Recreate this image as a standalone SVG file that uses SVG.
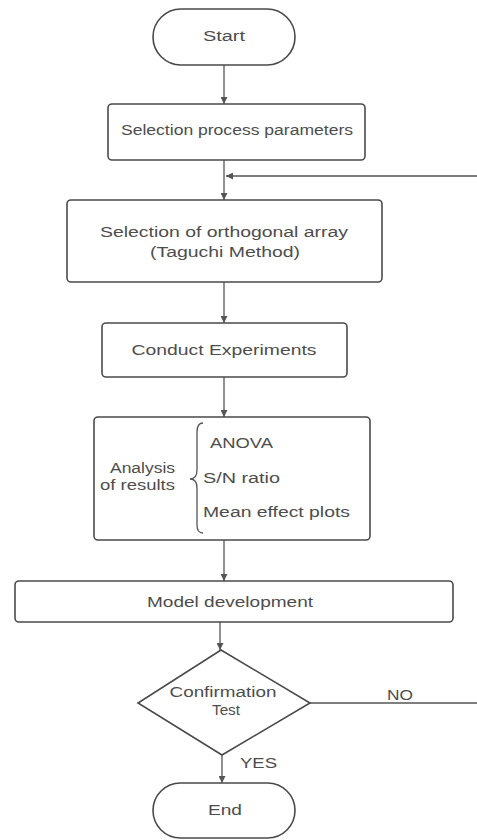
<svg xmlns="http://www.w3.org/2000/svg" width="477" height="840" viewBox="0 0 477 840">
<defs>
<style>
.shape{fill:#fff;stroke:#4a4a4a;stroke-width:1.6}
.t{font-family:"Liberation Sans",Arial,sans-serif;font-size:14px;fill:#4d4d4d}
.c{text-anchor:middle}
.conn{stroke:#555;stroke-width:1.3;fill:none}
</style>
<marker id="ah" viewBox="0 0 10 10" refX="10" refY="5" markerWidth="7" markerHeight="7" orient="auto" markerUnits="userSpaceOnUse">
<path d="M0,0 L10,5 L0,10 z" fill="#555"/>
</marker>
</defs>
<rect width="477" height="840" fill="#fff"/>
<g id="connectors">
<line class="conn" x1="224" y1="65" x2="224" y2="104" marker-end="url(#ah)"/>
<line class="conn" x1="224" y1="160" x2="224" y2="200" marker-end="url(#ah)"/>
<line class="conn" x1="477" y1="176" x2="226" y2="176" marker-end="url(#ah)"/>
<line class="conn" x1="224" y1="282" x2="224" y2="323" marker-end="url(#ah)"/>
<line class="conn" x1="224" y1="377" x2="224" y2="417" marker-end="url(#ah)"/>
<line class="conn" x1="224" y1="540" x2="224" y2="581" marker-end="url(#ah)"/>
<line class="conn" x1="220" y1="622" x2="220" y2="650" marker-end="url(#ah)"/>
<line class="conn" x1="310" y1="703" x2="477" y2="703"/>
<line class="conn" x1="222" y1="755" x2="222" y2="783" marker-end="url(#ah)"/>
<text class="t" x="387" y="700" textLength="26" lengthAdjust="spacingAndGlyphs">NO</text>
<text class="t" x="240" y="768" textLength="37" lengthAdjust="spacingAndGlyphs">YES</text>
</g>
<g id="start">
<rect class="shape" x="153" y="9" width="142" height="56" rx="28"/>
<text class="t c" x="224" y="41" textLength="42" lengthAdjust="spacingAndGlyphs">Start</text>
</g>
<g id="selection-params">
<rect class="shape" x="108" y="104" width="257" height="56" rx="4"/>
<text class="t c" x="237" y="135" textLength="232" lengthAdjust="spacingAndGlyphs">Selection process parameters</text>
</g>
<g id="orthogonal-array">
<rect class="shape" x="67" y="200" width="315" height="82" rx="4"/>
<text class="t c" x="224" y="237" textLength="248" lengthAdjust="spacingAndGlyphs">Selection of orthogonal array</text>
<text class="t c" x="225" y="257" textLength="150" lengthAdjust="spacingAndGlyphs">(Taguchi Method)</text>
</g>
<g id="conduct">
<rect class="shape" x="102" y="323" width="245" height="54" rx="4"/>
<text class="t c" x="224" y="355" textLength="185" lengthAdjust="spacingAndGlyphs">Conduct Experiments</text>
</g>
<g id="analysis">
<rect class="shape" x="94" y="417" width="276" height="123" rx="4"/>
<text class="t" x="175" y="473" text-anchor="end" textLength="65" lengthAdjust="spacingAndGlyphs">Analysis</text>
<text class="t" x="175" y="490" text-anchor="end" textLength="75" lengthAdjust="spacingAndGlyphs">of results</text>
<path d="M203,423 Q197,423 197,432 L197,470 Q197,479 190,479 Q197,479 197,488 L197,525 Q197,533 203,533" fill="none" stroke="#555" stroke-width="1.3"/>
<text class="t" x="210" y="448" textLength="63" lengthAdjust="spacingAndGlyphs">ANOVA</text>
<text class="t" x="203" y="483" textLength="77" lengthAdjust="spacingAndGlyphs">S/N ratio</text>
<text class="t" x="203" y="517" textLength="147" lengthAdjust="spacingAndGlyphs">Mean effect plots</text>
</g>
<g id="model">
<rect class="shape" x="15" y="581" width="438" height="41" rx="4"/>
<text class="t c" x="230" y="607" textLength="166" lengthAdjust="spacingAndGlyphs">Model development</text>
</g>
<g id="confirmation">
<polygon class="shape" points="221,650 310,703 222,755 138,703"/>
<text class="t c" x="223" y="697" textLength="107" lengthAdjust="spacingAndGlyphs">Confirmation</text>
<text class="t c" x="226" y="715" textLength="28" lengthAdjust="spacingAndGlyphs">Test</text>
</g>
<g id="end">
<rect class="shape" x="153" y="783" width="142" height="55" rx="27.5"/>
<text class="t c" x="225" y="815" textLength="34" lengthAdjust="spacingAndGlyphs">End</text>
</g>
</svg>
